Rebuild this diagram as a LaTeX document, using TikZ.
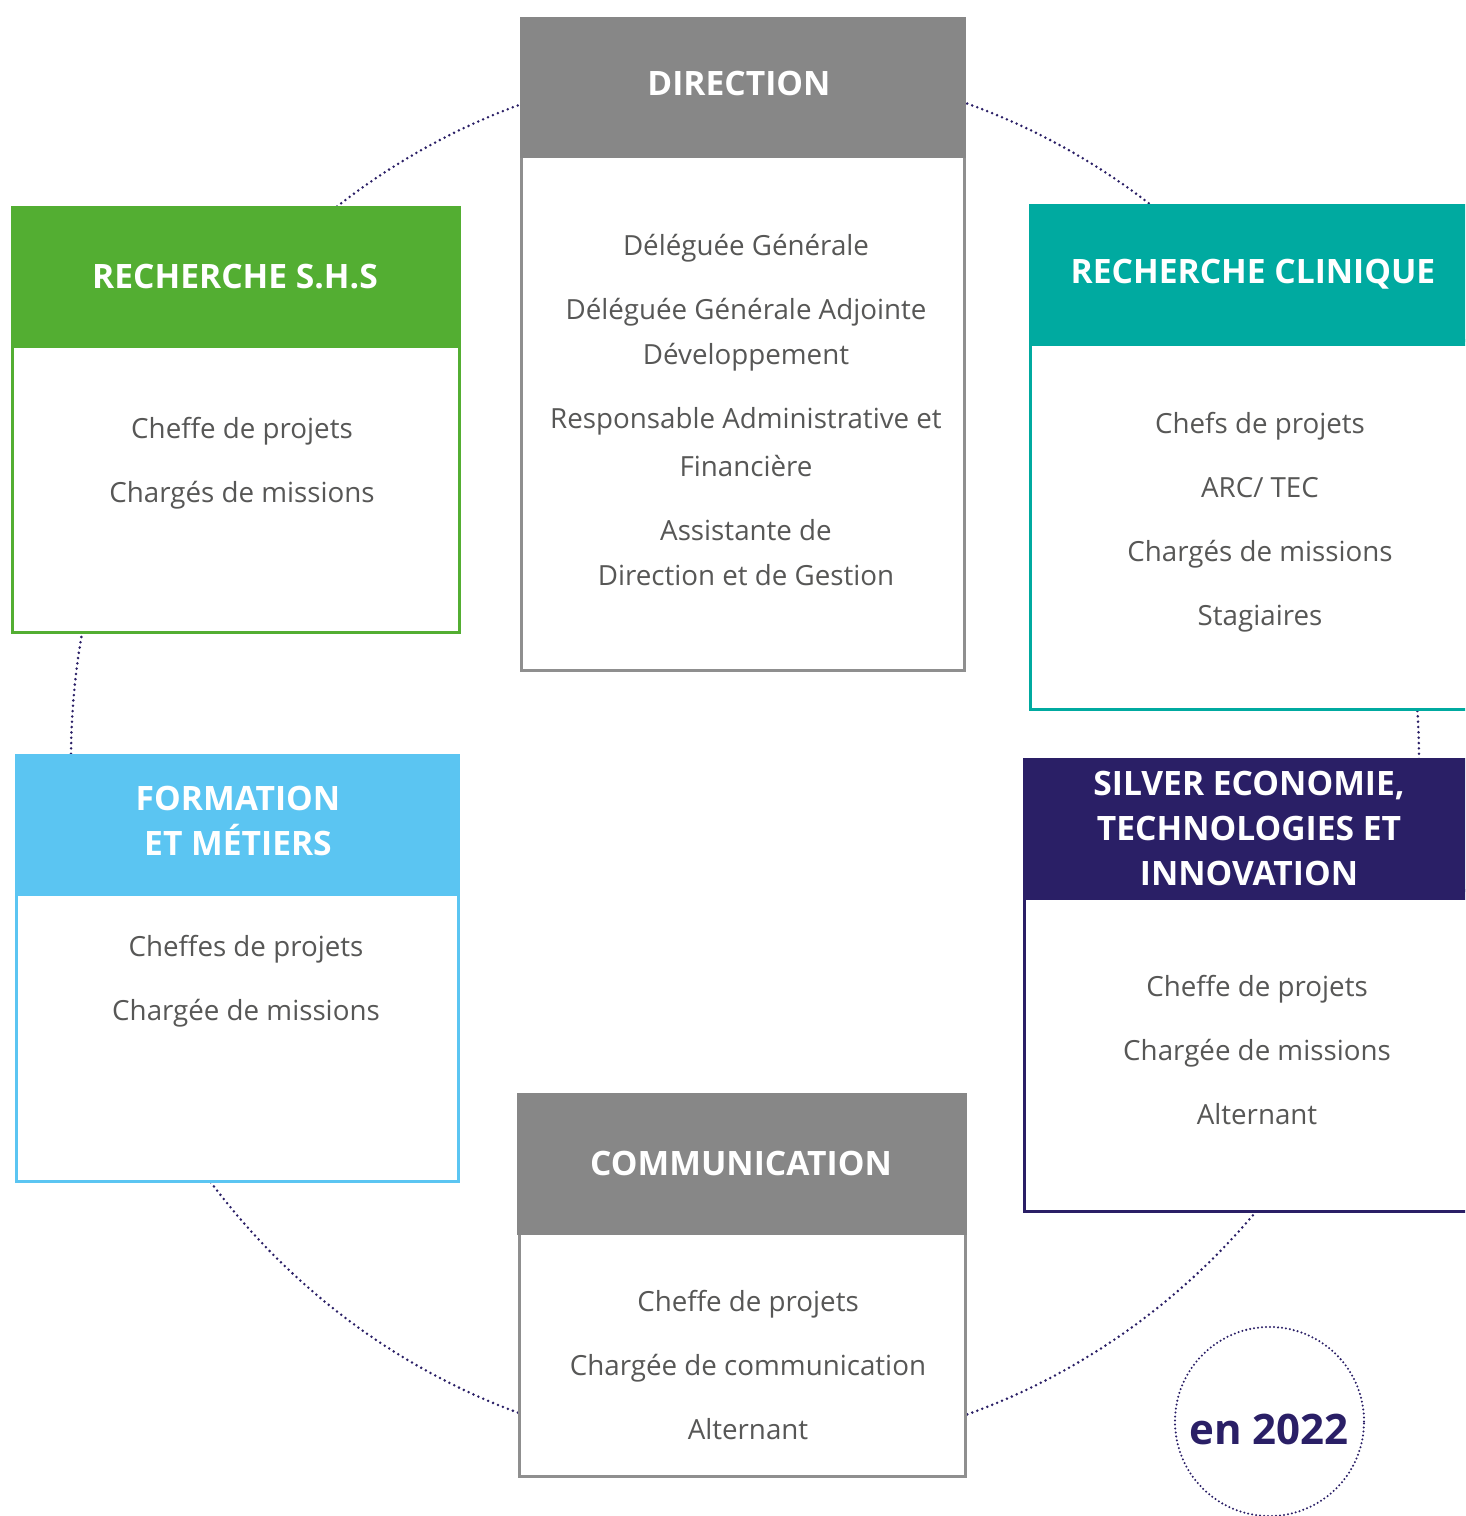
\documentclass[tikz,border=0pt]{standalone}
\usepackage{fontspec}
\setmainfont{Open Sans}
\definecolor{hgrey}{HTML}{878787}
\definecolor{bgrey}{HTML}{8F8F8F}
\definecolor{shsgreen}{HTML}{53AE32}
\definecolor{teal}{HTML}{00AAA0}
\definecolor{lblue}{HTML}{5BC5F2}
\definecolor{navy}{HTML}{2A1F66}
\definecolor{txtgrey}{HTML}{575756}
\begin{document}
\begin{tikzpicture}[x=0.75pt,y=-0.75pt,
  bodytxt/.style={font=\fontsize{20.8}{34}\selectfont, text=txtgrey, anchor=base, inner sep=0pt},
  headtxt/.style={font=\fontsize{25.2}{34}\selectfont\bfseries, text=white, anchor=base, inner sep=0pt},
  dots/.style={draw=navy, line width=2.1pt, dash pattern=on 0pt off 4pt, line cap=round},
  frame/.style={line width=2.25pt, fill=white}]
\useasboundingbox (0,0) rectangle (1465,1516);
\clip (0,0) rectangle (1465,1516);
% big dotted ring
\draw[dots] (745,759) ellipse [x radius=505.5pt, y radius=520.5pt];

% DIRECTION
\draw[frame, draw=bgrey] (521.5,150) rectangle (964.5,670.5);
\fill[hgrey] (520,17) rectangle (966,158);
\node[headtxt] (dirh) at (739,96) {DIRECTION};
\node[bodytxt] (d1) at (746,255) {Déléguée Générale};
\node[bodytxt] (d2) at (746,319) {Déléguée Générale Adjointe};
\node[bodytxt] (d3) at (746,364) {Développement};
\node[bodytxt] (d4) at (746,428) {Responsable Administrative et};
\node[bodytxt] (d5) at (746,476) {Financière};
\node[bodytxt] (d6) at (746,540) {Assistante de};
\node[bodytxt] (d7) at (746,585) {Direction et de Gestion};

% RECHERCHE S.H.S
\draw[frame, draw=shsgreen] (12.5,340) rectangle (459.5,632);
\fill[shsgreen] (11,206) rectangle (461,348);
\node[headtxt] (shsh) at (235,288) {RECHERCHE S.H.S};
\node[bodytxt] (s1) at (242,438) {Cheffe de projets};
\node[bodytxt] (s2) at (242,502) {Chargés de missions};

% RECHERCHE CLINIQUE
\draw[frame, draw=teal] (1030.5,340) rectangle (1475,709);
\fill[teal] (1029,204) rectangle (1470,346);
\node[headtxt] (clih) at (1253,283) {RECHERCHE CLINIQUE};
\node[bodytxt] (c1) at (1260,433) {Chefs de projets};
\node[bodytxt] (c2) at (1260,497) {ARC/ TEC};
\node[bodytxt] (c3) at (1260,561) {Chargés de missions};
\node[bodytxt] (c4) at (1260,625) {Stagiaires};

% FORMATION ET METIERS
\draw[frame, draw=lblue] (16.5,890) rectangle (458.5,1181.5);
\fill[lblue] (15,754) rectangle (460,896);
\node[headtxt] (forh1) at (238,810) {FORMATION};
\node[headtxt] (forh2) at (238,855) {ET MÉTIERS};
\node[bodytxt] (f1) at (246,956) {Cheffes de projets};
\node[bodytxt] (f2) at (246,1020) {Chargée de missions};

% SILVER ECONOMIE
\draw[frame, draw=navy] (1024.5,890) rectangle (1475,1211.5);
\fill[navy] (1023,758) rectangle (1470,900);
\node[headtxt] (silh1) at (1249,795) {SILVER ECONOMIE,};
\node[headtxt] (silh2) at (1249,840) {TECHNOLOGIES ET};
\node[headtxt] (silh3) at (1249,885) {INNOVATION};
\node[bodytxt] (v1) at (1257,996) {Cheffe de projets};
\node[bodytxt] (v2) at (1257,1060) {Chargée de missions};
\node[bodytxt] (v3) at (1257,1124) {Alternant};

% COMMUNICATION
\draw[frame, draw=bgrey] (519.5,1225) rectangle (965.5,1476);
\fill[hgrey] (517,1093) rectangle (967,1235);
\node[headtxt] (comh) at (741,1175) {COMMUNICATION};
\node[bodytxt] (m1) at (748,1311) {Cheffe de projets};
\node[bodytxt] (m2) at (748,1375) {Chargée de communication};
\node[bodytxt] (m3) at (748,1439) {Alternant};

% en 2022
\draw[dots, line width=1.7pt, dash pattern=on 0pt off 3pt] (1269.5,1421.5) circle [radius=70.9pt];
\node[font=\fontsize{31.5}{36}\selectfont\bfseries, text=navy, anchor=base, inner sep=0pt] (year) at (1269,1444) {en 2022};
\end{tikzpicture}
\end{document}
